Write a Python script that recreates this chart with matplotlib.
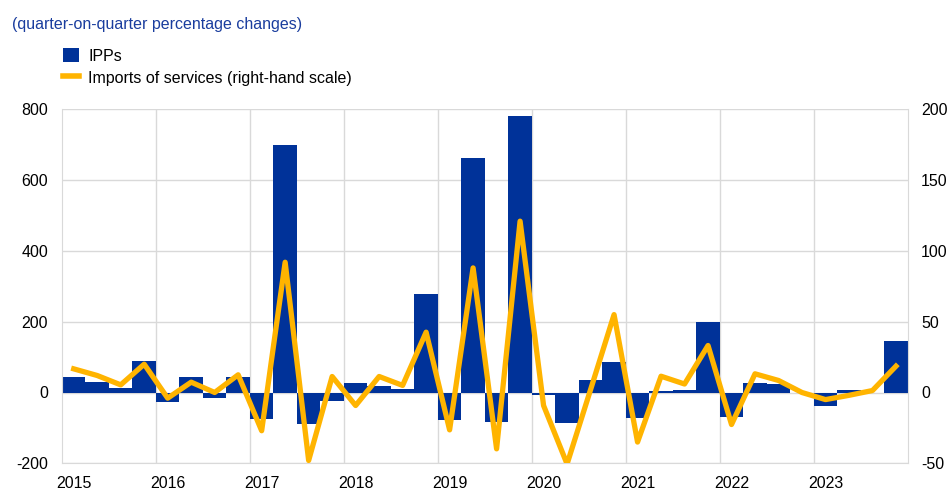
import matplotlib
matplotlib.use("Agg")
import matplotlib.pyplot as plt
from matplotlib.patches import Patch
from matplotlib.lines import Line2D

plt.rcParams['font.family'] = ['Liberation Sans', 'DejaVu Sans']
plt.rcParams['axes.unicode_minus'] = False

years = ['2015', '2016', '2017', '2018', '2019', '2020', '2021', '2022', '2023']

# quarterly, 2015Q1 - 2023Q4
ipps = [43, 29, 12, 90, -26, 43, -15, 45,
        -74, 698, -88, -25, 28, 17, 9, 277,
        -77, 663, -84, 782, -7, -87, 34, 85,
        -72, 5, 7, 200, -68, 26, 23, -1,
        -37, 8, -2, 145]
imports_services = [16.7, 12, 5.4, 20, -4, 7.3, 0, 12.5,
                    -27, 92, -48, 11.3, -9.2, 11.3, 5, 42.6,
                    -26.4, 88, -39.8, 121, -9.2, -50.5, 2, 55,
                    -35, 11.5, 6, 33.2, -22.6, 13.2, 8.5, 0,
                    -5, -2, 1.4, 18.6]

blue = '#003299'
yellow = '#FFB400'
grid = '#d9d9d9'

x = list(range(len(ipps)))

fig = plt.figure(figsize=(9.49, 5), dpi=100)
ax = fig.add_axes([0.0653, 0.0734, 0.8912, 0.708])
ax.bar(x, ipps, width=1.0, color=blue, zorder=2)
ax.set_xlim(-0.5, len(ipps) - 0.5)
ax.set_ylim(-200, 800)
ax.set_yticks([-200, 0, 200, 400, 600, 800])
ax.set_xticks(range(0, len(ipps), 4))
ax.set_xticklabels(years)
ax.set_xticks([i - 0.5 for i in range(4, len(ipps), 4)], minor=True)
ax.grid(axis='y', color=grid, lw=1, zorder=0)
ax.grid(axis='x', which='minor', color=grid, lw=1, zorder=0)
ax.tick_params(axis='both', which='both', length=0, labelsize=11.5)
ax.tick_params(axis='y', pad=10)
ax.tick_params(axis='x', pad=9)
for s in ax.spines.values():
    s.set_color(grid)
ax.spines['top'].set_visible(False)

ax2 = ax.twinx()
ax2.plot(x, imports_services, color=yellow, lw=3.8, solid_joinstyle='round', zorder=3)
ax2.set_ylim(-50, 200)
ax2.set_yticks([-50, 0, 50, 100, 150, 200])
ax2.tick_params(axis='y', length=0, labelsize=11.5, pad=9.5)
for s in ax2.spines.values():
    s.set_visible(False)

fig.text(0.0126, 0.952, '(quarter-on-quarter percentage changes)', color='#1a3d9e',
         fontsize=11.5, va='center')

handles = [Patch(facecolor=blue, edgecolor='none'),
           Line2D([], [], color=yellow, lw=4)]
fig.legend(handles, ['IPPs', 'Imports of services (right-hand scale)'],
           loc='upper left', bbox_to_anchor=(0.0595, 0.917), frameon=False,
           fontsize=11.5, handlelength=1.0, handleheight=1.0, handletextpad=0.6,
           labelspacing=0.4, borderaxespad=0)

fig.savefig('out.png', dpi=100)
